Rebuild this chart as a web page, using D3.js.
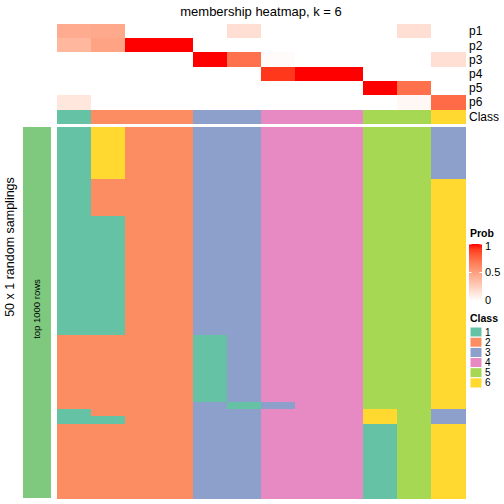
<!DOCTYPE html>
<html>
<head>
<meta charset="utf-8">
<script src="https://cdn.jsdelivr.net/npm/d3@7"></script>
<style>
body { margin: 0; background: #fff; }
svg { display: block; font-family: "Liberation Sans", Arial, sans-serif; }
</style>
</head>
<body>
<svg id="chart" width="504" height="504"></svg>
<script>
// ---------- data ----------
const columns = ["c1","c2","c3","c4","c5","c6","c7","c8","c9","c10","c11","c12"];
const probNames = ["p1","p2","p3","p4","p5","p6"];
const p1 = [0.44, 0.45, 0, 0, 0, 0.17, 0, 0, 0, 0, 0.17, 0];
const p2 = [0.38, 0.48, 1, 1, 0, 0, 0, 0, 0, 0, 0, 0];
const p3 = [0, 0, 0, 0, 1, 0.72, 0.02, 0, 0, 0, 0, 0.17];
const p4 = [0, 0, 0, 0, 0, 0, 0.92, 1, 1, 0, 0, 0];
const p5 = [0, 0, 0, 0, 0, 0, 0, 0, 0, 1, 0.72, 0];
const p6 = [0.13, 0, 0, 0, 0, 0, 0, 0, 0, 0, 0.04, 0.74];
const classOf = [1, 2, 2, 2, 3, 3, 4, 4, 4, 5, 5, 6];
const classLevels = [1, 2, 3, 4, 5, 6];
const classColors = ["#66C2A5", "#FC8D62", "#8DA0CB", "#E78AC3", "#A6D854", "#FFD92F"];
const nRows = 50;
// per column: class of each of the 50 sampling rows (groups of 10 rows)
const samplings = [
  "1111111111 1111111111 1111111122 2222222211 2222222222",
  "6666666222 2211111111 1111111122 2222222221 2222222222",
  "2222222222 2222222222 2222222222 2222222222 2222222222",
  "2222222222 2222222222 2222222222 2222222222 2222222222",
  "3333333333 3333333333 3333333311 1111111333 3333333333",
  "3333333333 3333333333 3333333333 3333333133 3333333333",
  "4444444444 4444444444 4444444444 4444444344 4444444444",
  "4444444444 4444444444 4444444444 4444444444 4444444444",
  "4444444444 4444444444 4444444444 4444444444 4444444444",
  "5555555555 5555555555 5555555555 5555555566 1111111111",
  "5555555555 5555555555 5555555555 5555555555 5555555555",
  "3333333666 6666666666 6666666666 6666666633 6666666666"
];
const probTicks = [0, 0.5, 1];
const probTickLabels = ["0", "0.5", "1"];

// ---------- drawing ----------
const svg = d3.select("#chart");
const probRows = [p1, p2, p3, p4, p5, p6];
const probColor = d3.scaleLinear().domain([0, 1]).range(["#ffffff", "#ff0000"]).interpolate(d3.interpolateLab);
const classColor = d3.scaleOrdinal().domain(classLevels).range(classColors);

const x = d3.scaleBand().domain(columns).range([57, 465]);
const yTop = d3.scaleBand().domain(probNames).range([24, 109.2]);
const yMain = d3.scaleBand().domain(d3.range(nRows)).range([127, 498]);

// title
svg.append("text").attr("x", 261).attr("y", 16).attr("text-anchor", "middle")
  .attr("font-size", 13).text("membership heatmap, k = 6");

// probability annotation rows
const gTop = svg.append("g").attr("shape-rendering", "crispEdges");
probRows.forEach((arr, i) => {
  gTop.selectAll(null).data(arr).enter().append("rect")
    .attr("x", (d, j) => x(columns[j]))
    .attr("y", yTop(probNames[i]))
    .attr("width", x.bandwidth() + 0.5)
    .attr("height", yTop.bandwidth() + 0.5)
    .attr("fill", d => probColor(d));
});
// class annotation row
gTop.selectAll(null).data(classOf).enter().append("rect")
  .attr("x", (d, j) => x(columns[j]))
  .attr("y", 110).attr("width", x.bandwidth() + 0.5).attr("height", 14)
  .attr("fill", d => classColor(d));

// row labels
svg.selectAll(null).data(probNames.concat(["Class"])).enter().append("text")
  .attr("x", 469)
  .attr("y", (d, i) => i < 6 ? yTop(d) + yTop.bandwidth() / 2 : 117)
  .attr("dy", "0.36em").attr("font-size", 12).text(d => d);

// main heatmap
const cells = [];
samplings.forEach((s, j) => {
  const vals = s.replace(/ /g, "");
  for (let r = 0; r < nRows; r++) cells.push({ col: columns[j], row: r, cls: +vals[r] });
});
svg.append("g").attr("shape-rendering", "crispEdges")
  .selectAll("rect").data(cells).enter().append("rect")
  .attr("x", d => x(d.col)).attr("y", d => yMain(d.row))
  .attr("width", x.bandwidth() + 0.5).attr("height", yMain.bandwidth() + 0.5)
  .attr("fill", d => classColor(d.cls));

// left row-group bar
svg.append("rect").attr("x", 23).attr("y", 127).attr("width", 28).attr("height", 371)
  .attr("fill", "#7FC97F");
svg.append("text").attr("transform", "translate(37,309) rotate(-90)")
  .attr("text-anchor", "middle").attr("dy", "0.35em").attr("font-size", 9.5)
  .text("top 1000 rows");
svg.append("text").attr("transform", "translate(10,247) rotate(-90)")
  .attr("text-anchor", "middle").attr("dy", "0.35em").attr("font-size", 12.5)
  .text("50 x 1 random samplings");

// Prob legend
svg.append("text").attr("x", 470).attr("y", 237).attr("font-size", 10.5)
  .attr("font-weight", "bold").text("Prob");
const defs = svg.append("defs");
const grad = defs.append("linearGradient").attr("id", "pg")
  .attr("x1", 0).attr("y1", 1).attr("x2", 0).attr("y2", 0);
d3.range(0, 1.01, 0.1).forEach(t => {
  grad.append("stop").attr("offset", t).attr("stop-color", probColor(t));
});
const yLeg = d3.scaleLinear().domain([0, 1]).range([301, 244]);
svg.append("rect").attr("x", 469).attr("y", 244).attr("width", 13).attr("height", 57)
  .attr("fill", "url(#pg)");
const legTicks = svg.append("g");
probTicks.forEach((t, i) => {
  if (t > 0) {
    legTicks.append("line").attr("x1", 469).attr("x2", 471.5)
      .attr("y1", yLeg(t)).attr("y2", yLeg(t)).attr("stroke", "#fff").attr("stroke-width", 1);
    legTicks.append("line").attr("x1", 479.5).attr("x2", 482)
      .attr("y1", yLeg(t)).attr("y2", yLeg(t)).attr("stroke", "#fff").attr("stroke-width", 1);
  }
  legTicks.append("text").attr("x", 485).attr("y", Math.max(yLeg(t), 246) - (t === 0 ? 1 : 0))
    .attr("dy", "0.36em").attr("font-size", 11).text(probTickLabels[i]);
});

// Class legend
svg.append("text").attr("x", 470).attr("y", 322).attr("font-size", 10.5)
  .attr("font-weight", "bold").text("Class");
const yCls = d3.scaleBand().domain(classLevels).range([327, 388]);
svg.selectAll(null).data(classLevels).enter().append("rect")
  .attr("x", 470).attr("y", d => yCls(d)).attr("width", 12).attr("height", yCls.bandwidth())
  .attr("fill", d => classColor(d)).attr("stroke", "#fff").attr("stroke-width", 1);
svg.selectAll(null).data(classLevels).enter().append("text")
  .attr("x", 485).attr("y", d => yCls(d) + yCls.bandwidth() / 2).attr("dy", "0.35em")
  .attr("font-size", 10).text(d => d);
</script>
</body>
</html>
